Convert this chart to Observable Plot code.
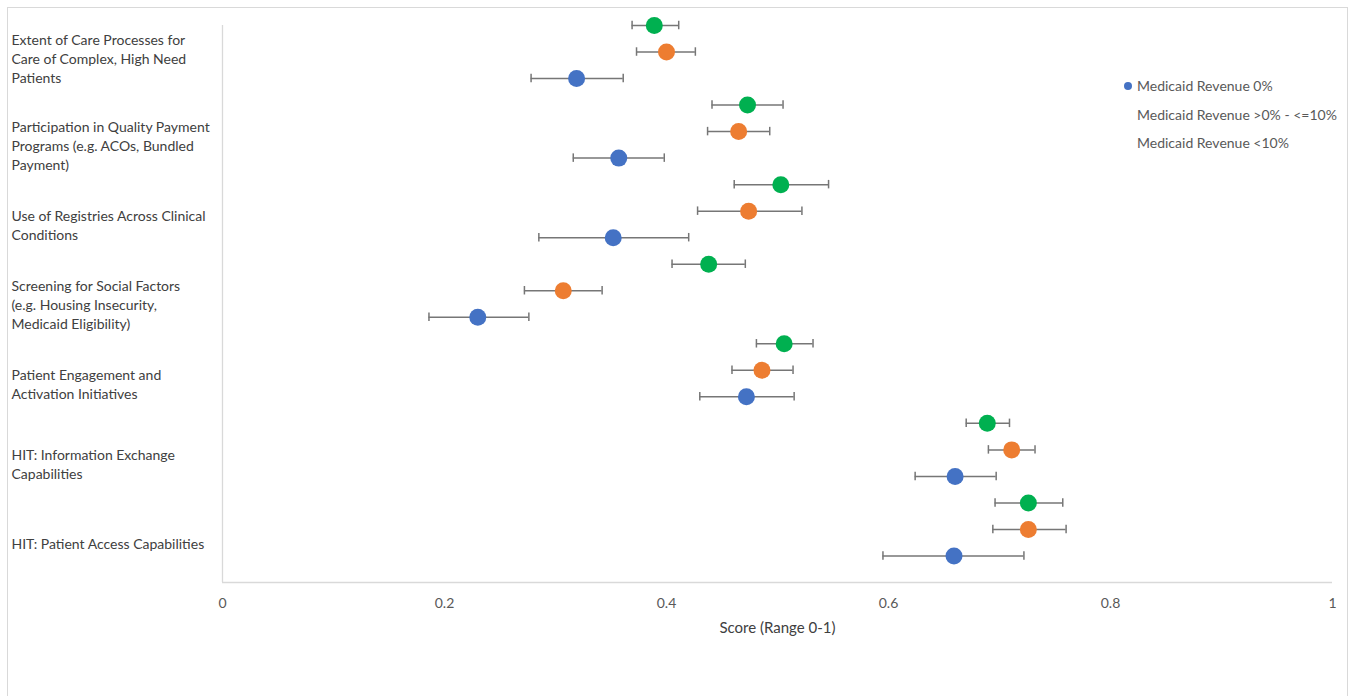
<!DOCTYPE html>
<html>
<head>
<meta charset="utf-8">
<script src="https://cdn.jsdelivr.net/npm/d3@7"></script>
<script src="https://cdn.jsdelivr.net/npm/@observablehq/plot@0.6"></script>
<style>
  html, body { margin: 0; padding: 0; background: #fff; }
  #wrap { position: relative; width: 1353px; height: 696px; overflow: hidden; font-family: Lato, "Open Sans", sans-serif; }
  #border { position: absolute; left: 7px; top: 7px; width: 1341px; height: 720px; border: 1px solid #d9d9d9; box-sizing: border-box; }
  #chart { position: absolute; left: 0; top: 0; }
  #legend { position: absolute; left: 1121px; top: 76px; font-size: 14px; color: #595959; }
  .li { position: relative; height: 28.5px; line-height: 20px; padding-left: 16px; white-space: nowrap; }
  .sw { position: absolute; left: 3px; top: 6px; width: 8px; height: 8px; border-radius: 50%; }
</style>
</head>
<body>
<div id="wrap">
  <div id="border"></div>
  <div id="chart"></div>
  <div id="legend"></div>
</div>
<script>
const categories = [
  "Extent of Care Processes for\nCare of Complex, High Need\nPatients",
  "Participation in Quality Payment\nPrograms (e.g. ACOs, Bundled\nPayment)",
  "Use of Registries Across Clinical\nConditions",
  "Screening for Social Factors\n(e.g. Housing Insecurity,\nMedicaid Eligibility)",
  "Patient Engagement and\nActivation Initiatives",
  "HIT: Information Exchange\nCapabilities",
  "HIT: Patient Access Capabilities"
];

const seriesNames = ["Medicaid Revenue <10%", "Medicaid Revenue >0% - <=10%", "Medicaid Revenue 0%"];
const seriesColors = ["#00b050", "#ed7d31", "#4472c4"];

// Medicaid Revenue <10% (green)
const greenMean = [0.389, 0.473, 0.503, 0.438, 0.506, 0.689, 0.726];
const greenLow  = [0.369, 0.441, 0.461, 0.405, 0.481, 0.670, 0.696];
const greenHigh = [0.411, 0.505, 0.546, 0.471, 0.532, 0.709, 0.757];
// Medicaid Revenue >0% - <=10% (orange)
const orangeMean = [0.400, 0.465, 0.474, 0.307, 0.486, 0.711, 0.726];
const orangeLow  = [0.373, 0.437, 0.428, 0.272, 0.459, 0.690, 0.694];
const orangeHigh = [0.426, 0.493, 0.522, 0.342, 0.514, 0.732, 0.760];
// Medicaid Revenue 0% (blue)
const blueMean = [0.319, 0.357, 0.352, 0.230, 0.472, 0.660, 0.659];
const blueLow  = [0.278, 0.316, 0.285, 0.186, 0.430, 0.624, 0.595];
const blueHigh = [0.361, 0.398, 0.420, 0.276, 0.515, 0.697, 0.722];

const xTicks = [0, 0.2, 0.4, 0.6, 0.8, 1];
const xLabel = "Score (Range 0-1)";
const legendItems = ["Medicaid Revenue 0%", "Medicaid Revenue >0% - <=10%", "Medicaid Revenue <10%"];

const seriesData = [
  [greenMean, greenLow, greenHigh],
  [orangeMean, orangeLow, orangeHigh],
  [blueMean, blueLow, blueHigh]
];
const nCat = categories.length;
const nRows = nCat * 3;
const rows = [];
categories.forEach((c, i) => {
  seriesData.forEach((s, k) => {
    rows.push({
      cat: c, series: seriesNames[k], color: seriesColors[k],
      row: nRows - 3 * i - k,
      mean: s[0][i], lo: s[1][i], hi: s[2][i]
    });
  });
});
const labelRows = categories.map((c, i) => ({ cat: c, pos: nRows - 3 * (i + 0.5) }));
const capH = 0.16;
const font = "Lato, 'Open Sans', sans-serif";

const chart = Plot.plot({
  width: 1353,
  height: 696,
  marginLeft: 222,
  marginRight: 21,
  marginTop: 25,
  marginBottom: 114,
  style: { fontFamily: font, fontSize: "14px", color: "#595959", background: "transparent", overflow: "visible" },
  x: { domain: [0, 1] },
  y: { domain: [0, nRows], axis: null },
  marks: [
    Plot.axisX({ ticks: xTicks, tickFormat: d => String(d), tickSize: 0, tickPadding: 16, label: null, fontSize: 14, fill: "#595959" }),
    Plot.text([xLabel], { frameAnchor: "bottom", dy: 50, fontSize: 15, fill: "#404040" }),
    Plot.ruleX([0], { stroke: "#d9d9d9", strokeWidth: 1.3 }),
    Plot.ruleY([0], { stroke: "#d9d9d9", strokeWidth: 1.3 }),
    Plot.text(labelRows.slice(0, 1), { x: 0, y: "pos", text: "cat", textAnchor: "start", dx: -211, dy: -7, lineHeight: 1.36, fill: "#404040", fontSize: 14 }),
    Plot.text(labelRows.slice(1), { x: 0, y: "pos", text: "cat", textAnchor: "start", dx: -211, lineHeight: 1.36, fill: "#404040", fontSize: 14 }),
    Plot.ruleY(rows, { y: "row", x1: "lo", x2: "hi", stroke: "#767676", strokeWidth: 1.5 }),
    Plot.ruleX(rows, { x: "lo", y1: d => d.row - capH, y2: d => d.row + capH, stroke: "#767676", strokeWidth: 1.5 }),
    Plot.ruleX(rows, { x: "hi", y1: d => d.row - capH, y2: d => d.row + capH, stroke: "#767676", strokeWidth: 1.5 }),
    Plot.dot(rows, { x: "mean", y: "row", r: 8.5, fill: "color", stroke: "none" })
  ]
});
document.getElementById("chart").appendChild(chart);

const legend = document.getElementById("legend");
legendItems.forEach((name, i) => {
  const div = document.createElement("div");
  div.className = "li";
  if (i === 0) {
    const sw = document.createElement("span");
    sw.className = "sw";
    sw.style.background = "#4472c4";
    div.appendChild(sw);
  }
  div.appendChild(document.createTextNode(name));
  legend.appendChild(div);
});
</script>
</body>
</html>
